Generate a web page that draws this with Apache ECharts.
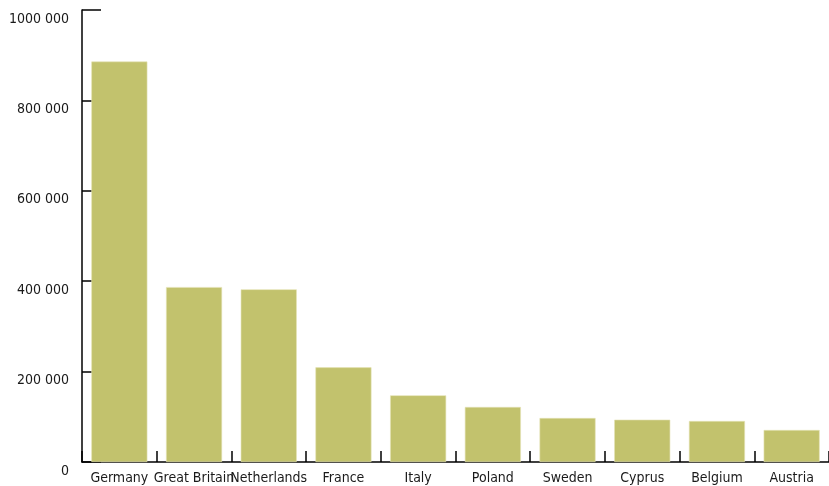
<!DOCTYPE html>
<html>
<head>
<meta charset="utf-8">
<script src="https://cdn.jsdelivr.net/npm/echarts@6/dist/echarts.min.js"></script>
<style>html,body{margin:0;padding:0;background:#fff}#c{width:829px;height:486px}</style>
</head>
<body>
<div id="c"></div>
<script>
var categories = ['Germany','Great Britain','Netherlands','France','Italy','Poland','Sweden','Cyprus','Belgium','Austria'];
var values = [886000, 387000, 382000, 209500, 147500, 121700, 97300, 93600, 90700, 70800];
var tickValues = [0, 200000, 400000, 600000, 800000, 1000000];
var tickLabels = ['0', '200 000', '400 000', '600 000', '800 000', '1000 000'];

var FONT = '"DejaVu Sans Condensed", "Liberation Sans Narrow", sans-serif';
var chart = echarts.init(document.getElementById('c'), null, {renderer: 'canvas'});
chart.setOption({
  animation: false,
  grid: {left: 82, right: 0, top: 10, bottom: 24, containLabel: false},
  xAxis: {
    type: 'category',
    data: categories,
    axisLine: {lineStyle: {color: '#000', width: 1.5}},
    axisTick: {show: true, inside: true, length: 11, lineStyle: {color: '#000', width: 1.5}},
    axisLabel: {color: '#1a1a1a', fontFamily: FONT, fontSize: 14, margin: 9, interval: 0}
  },
  yAxis: {
    type: 'value',
    min: 0, max: 1000000, interval: 200000,
    axisLine: {show: true, lineStyle: {color: '#000', width: 1.5}},
    axisTick: {show: true, inside: true, length: 19, lineStyle: {color: '#000', width: 1.5}},
    splitLine: {show: false},
    axisLabel: {
      color: '#1a1a1a', fontFamily: FONT, fontSize: 14, margin: 13, verticalAlign: 'top', lineHeight: 18,
      formatter: function (v) { var i = tickValues.indexOf(v); return i >= 0 ? tickLabels[i] : ''; }
    }
  },
  series: [{
    type: 'bar',
    data: values,
    barCategoryGap: '25%',
    itemStyle: {color: '#c2c26d', borderColor: '#e4e2b6', borderWidth: 0.6}
  }]
});
</script>
</body>
</html>
